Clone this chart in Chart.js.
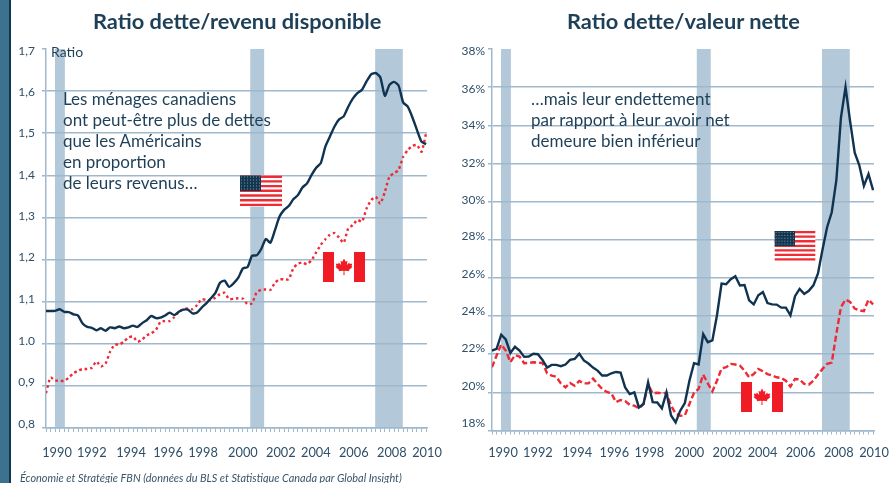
<!DOCTYPE html>
<html lang="fr">
<head>
<meta charset="utf-8">
<title>Ratios d'endettement</title>
<script src="https://cdn.jsdelivr.net/npm/chart.js@4/dist/chart.umd.js"></script>
<style>
body { margin: 0; background: #fff; }
#page { position: relative; width: 894px; height: 483px; overflow: hidden; font-family: Lato, sans-serif; color: #1d3f57; }
#page > * { position: absolute; }
canvas { top: 0; }
#strip { left: 0; top: 0; width: 9px; height: 483px; background: #3a7290; border-right: 2px solid #12364f; }
.title { top: 7px; font-size: 21.8px; font-weight: 700; line-height: 28px; white-space: nowrap; }
.note { font-size: 17px; line-height: 21px; white-space: nowrap; }
#ratio { left: 51px; top: 44px; font-size: 14px; line-height: 16px; }
#source { left: 20px; top: 471px; font-size: 10.9px; line-height: 13px; font-style: italic; color: #3a5568; white-space: nowrap; }
</style>
</head>
<body>
<div id="page">
  <canvas id="revenu" width="447" height="483" style="left:0"></canvas>
  <canvas id="valeur" width="447" height="483" style="left:447px"></canvas>
  <div id="strip"></div>
  <div class="title" style="left:93px">Ratio dette/revenu disponible</div>
  <div class="title" style="left:567px">Ratio dette/valeur nette</div>
  <div id="ratio">Ratio</div>
  <div class="note" style="left:63px;top:88px">Les ménages canadiens<br>ont peut-être plus de dettes<br>que les Américains<br>en proportion<br>de leurs revenus…</div>
  <div class="note" style="left:531px;top:88px">…mais leur endettement<br>par rapport à leur avoir net<br>demeure bien inférieur</div>
  <div id="source">Économie et Stratégie FBN (données du BLS et Statistique Canada par Global Insight)</div>

  <svg width="0" height="0" style="left:0;top:0">
    <defs>
      <pattern id="stars" width="3" height="3" patternUnits="userSpaceOnUse"><circle cx="1.5" cy="1.5" r="0.6" fill="#8fa3b5"/></pattern>
      <symbol id="usa" viewBox="0 0 42 31">
        <rect width="42" height="31" fill="#fff"/>
        <path d="M0 1.2H42M0 5.9H42M0 10.6H42M0 15.3H42M0 20H42M0 24.7H42M0 29.4H42" stroke="#ef2b36" stroke-width="2.4"/>
        <rect width="21" height="15.5" fill="#12364f"/>
        <rect width="21" height="15.5" fill="url(#stars)"/>
      </symbol>
      <symbol id="canada" viewBox="0 0 42 30">
        <rect width="42" height="30" fill="#fff"/>
        <rect width="11" height="30" fill="#ef1c25"/>
        <rect x="31" width="11" height="30" fill="#ef1c25"/>
        <path d="M21 6.5l1.7 3.2 1.8-1-.7 4.4 2.4-2.5.6 1.4 2.5-.5-.8 2.8 1 .6-3.6 3 .5 1.4-3.7-.5-1.3.1.2 4h-1.2l.2-4-1.3-.1-3.7.5.5-1.4-3.6-3 1-.6-.8-2.8 2.5.5.6-1.4 2.4 2.5-.7-4.4 1.8 1z" fill="#ef1c25"/>
      </symbol>
    </defs>
  </svg>
  <svg style="left:240px;top:175px" width="42" height="32"><use href="#usa" width="42" height="32"/></svg>
  <svg style="left:323px;top:252px" width="42" height="30"><use href="#canada" width="42" height="30"/></svg>
  <svg style="left:774px;top:231px" width="42" height="30"><use href="#usa" width="42" height="30"/></svg>
  <svg style="left:741px;top:382px" width="42" height="30"><use href="#canada" width="42" height="30"/></svg>
</div>

<script>
// one value per quarter, 1990 Q1 onwards
const quarters = Array.from({ length: 84 }, (_, i) => 1990 + i * 0.25);

const usRevenu = [1.078, 1.078, 1.078, 1.082, 1.076, 1.075, 1.07, 1.067, 1.048, 1.04, 1.038, 1.032, 1.037, 1.031, 1.039, 1.037, 1.041, 1.037, 1.039, 1.043, 1.04, 1.049, 1.056, 1.066, 1.061, 1.062, 1.067, 1.074, 1.068, 1.076, 1.081, 1.081, 1.072, 1.074, 1.086, 1.096, 1.108, 1.121, 1.145, 1.15, 1.135, 1.144, 1.157, 1.179, 1.182, 1.209, 1.21, 1.225, 1.249, 1.24, 1.27, 1.302, 1.318, 1.327, 1.343, 1.353, 1.371, 1.381, 1.401, 1.418, 1.429, 1.468, 1.492, 1.516, 1.533, 1.54, 1.563, 1.582, 1.595, 1.603, 1.623, 1.64, 1.643, 1.633, 1.589, 1.615, 1.622, 1.613, 1.573, 1.563, 1.538, 1.508, 1.48, 1.474];
const caRevenu = [0.883, 0.92, 0.913, 0.912, 0.912, 0.92, 0.93, 0.936, 0.94, 0.94, 0.943, 0.958, 0.946, 0.953, 0.981, 0.998, 0.998, 1.005, 1.015, 1.017, 1.005, 1.01, 1.02, 1.025, 1.033, 1.052, 1.054, 1.054, 1.063, 1.076, 1.082, 1.084, 1.082, 1.092, 1.106, 1.104, 1.104, 1.11, 1.118, 1.121, 1.106, 1.107, 1.108, 1.107, 1.094, 1.096, 1.122, 1.128, 1.129, 1.128, 1.145, 1.153, 1.153, 1.153, 1.179, 1.19, 1.193, 1.189, 1.199, 1.217, 1.235, 1.248, 1.259, 1.263, 1.252, 1.24, 1.274, 1.282, 1.294, 1.29, 1.321, 1.341, 1.349, 1.333, 1.361, 1.397, 1.405, 1.413, 1.444, 1.46, 1.47, 1.472, 1.456, 1.5];
const usValeur = [22.19, 22.28, 23.02, 22.77, 22.07, 22.39, 22.19, 21.86, 21.88, 22.02, 22.0, 21.7, 21.3, 21.44, 21.44, 21.37, 21.46, 21.7, 21.75, 22.03, 21.67, 21.51, 21.3, 21.14, 20.88, 20.88, 21.0, 21.07, 21.04, 20.26, 19.91, 20.0, 19.21, 19.39, 20.53, 19.49, 19.47, 19.16, 20.0, 18.79, 18.42, 19.04, 19.44, 20.61, 21.53, 21.46, 23.05, 22.63, 22.72, 24.04, 25.7, 25.67, 25.93, 26.09, 25.6, 25.63, 24.82, 24.61, 25.09, 25.26, 24.68, 24.61, 24.6, 24.44, 24.44, 24.04, 25.04, 25.42, 25.16, 25.32, 25.61, 26.23, 27.5, 28.67, 29.44, 31.12, 34.4, 36.0, 34.2, 32.56, 31.9, 30.82, 31.44, 30.6];
const caValeur = [21.32, 21.93, 22.51, 22.19, 21.58, 21.95, 21.88, 21.53, 21.54, 21.58, 21.56, 21.54, 21.0, 20.88, 20.82, 20.47, 20.26, 20.49, 20.35, 20.6, 20.47, 20.47, 20.72, 20.44, 20.18, 20.02, 19.95, 19.49, 19.6, 19.54, 19.35, 19.3, 19.16, 19.39, 20.4, 19.95, 19.98, 19.95, 19.98, 19.3, 18.89, 18.77, 18.79, 19.39, 19.98, 20.18, 20.93, 20.47, 20.05, 20.61, 21.25, 21.32, 21.49, 21.46, 21.4, 21.14, 20.79, 20.96, 21.23, 21.11, 20.96, 20.88, 20.79, 20.75, 20.61, 20.3, 20.7, 20.68, 20.44, 20.4, 20.61, 20.93, 21.23, 21.49, 21.56, 23.07, 24.47, 24.86, 24.74, 24.39, 24.3, 24.26, 24.86, 24.61];

const recessions = [[1990.49, 1991.03], [2001.15, 2001.91], [2007.97, 2009.48]];

const yearLabels = ['1990', '1992', '1994', '1996', '1998', '2000', '2002', '2004', '2006', '2008', '2010'];
// the year labels sit right of their ticks and not evenly, as in the source
const yearLabelAt = [1990.6, 1992.5, 1994.64, 1996.66, 1998.57, 2000.75, 2002.82, 2004.73, 2006.8, 2008.88, 2010.8];

const revenuTicks = [1.7, 1.6, 1.5, 1.4, 1.3, 1.2, 1.1, 1.0, 0.9, 0.8];
const revenuLabels = ['1,7', '1,6', '1,5', '1,4', '1,3', '1,2', '1,1', '1.0', '0,9', '0,8'];
const revenuLabelAt = [1.694, 1.597, 1.5, 1.401, 1.302, 1.206, 1.106, 1.007, 0.909, 0.81];

const valeurTicks = [38, 36, 34, 32, 30, 28, 26, 24, 22, 20, 18];
const valeurLabels = ['38%', '36%', '34%', '32%', '30%', '28%', '26%', '24%', '22%', '20%', '18%'];
const valeurLabelAt = [37.87, 35.92, 33.99, 32.04, 30.1, 28.17, 26.18, 24.24, 22.3, 20.31, 18.37];

const navy = '#0f3350';
const red = '#ee2a35';
const axisBlue = '#9fb8cc';
const bandBlue = '#b3c9d9';
const labelBlue = '#2d4f68';

const bands = {
    id: 'bands',
    beforeDraw(chart) {
        const { ctx, chartArea, scales } = chart;
        ctx.save();
        ctx.fillStyle = bandBlue;
        recessions.forEach(([from, to]) => {
            const x0 = scales.x.getPixelForValue(from);
            const x1 = scales.x.getPixelForValue(to);
            ctx.fillRect(x0, chartArea.top, x1 - x0, chartArea.bottom - chartArea.top);
        });
        ctx.restore();
    }
};

function series(values) {
    return values.map((v, i) => ({ x: quarters[i], y: v }));
}

// ticks that only carry a label are listed with the real ones, sorted and without doubles
function tickList(values) {
    return [...new Set(values)].sort((a, b) => a - b).map(v => ({ value: v }));
}

function makeChart(id, cfg) {
    return new Chart(document.getElementById(id), {
        type: 'line',
        data: {
            datasets: [
                { label: 'États-Unis', data: series(cfg.us), borderColor: navy, borderWidth: 2.4, tension: cfg.tension },
                { label: 'Canada', data: series(cfg.ca), borderColor: red, borderWidth: 2.4, borderDash: cfg.dash, tension: cfg.tension }
            ]
        },
        options: {
            responsive: false,
            animation: false,
            elements: { point: { radius: 0 } },
            layout: { padding: { top: 49, right: 20, left: 0, bottom: 0 } },
            plugins: { legend: { display: false }, tooltip: { enabled: false } },
            scales: {
                x: {
                    type: 'linear',
                    min: 1990,
                    max: 2010.8,
                    afterBuildTicks(axis) {
                        axis.ticks = tickList(quarters.concat(yearLabelAt));
                    },
                    afterFit(axis) {
                        axis.height = 483 - cfg.bottom;
                        axis.paddingLeft = 0;
                        axis.paddingRight = 0;
                    },
                    border: { color: axisBlue, width: 1.5 },
                    grid: {
                        drawOnChartArea: false,
                        tickLength: 4,
                        tickColor: c => quarters.includes(c.tick.value) ? axisBlue : 'transparent'
                    },
                    ticks: {
                        autoSkip: false,
                        maxRotation: 0,
                        padding: cfg.xPad,
                        color: labelBlue,
                        font: { family: 'Lato, sans-serif', size: 12.8 },
                        callback: v => {
                            const i = yearLabelAt.indexOf(v);
                            return i < 0 ? '' : yearLabels[i];
                        }
                    }
                },
                y: {
                    min: cfg.ticks[cfg.ticks.length - 1],
                    max: cfg.ticks[0],
                    afterBuildTicks(axis) {
                        axis.ticks = tickList(cfg.ticks.concat(cfg.labelAt));
                    },
                    afterFit(axis) {
                        axis.width = cfg.left;
                        axis.paddingTop = 0;
                        axis.paddingBottom = 0;
                    },
                    border: { color: axisBlue, width: 1.5 },
                    grid: {
                        lineWidth: 1.5,
                        tickLength: 4,
                        color: c => cfg.ticks.includes(c.tick.value) && c.tick.value !== cfg.ticks[0] ? axisBlue : 'transparent',
                        tickColor: c => cfg.ticks.includes(c.tick.value) ? axisBlue : 'transparent'
                    },
                    ticks: {
                        autoSkip: false,
                        padding: cfg.yPad,
                        color: labelBlue,
                        font: { family: 'Lato, sans-serif', size: 12 },
                        callback: v => {
                            const i = cfg.labelAt.indexOf(v);
                            return i < 0 ? '' : cfg.labels[i];
                        }
                    }
                }
            }
        },
        plugins: [bands]
    });
}

makeChart('revenu', {
    us: usRevenu, ca: caRevenu, ticks: revenuTicks, labels: revenuLabels, labelAt: revenuLabelAt,
    dash: [2.5, 3], tension: 0.2, left: 46, bottom: 428, xPad: 13, yPad: 7
});
makeChart('valeur', {
    us: usValeur, ca: caValeur, ticks: valeurTicks, labels: valeurLabels, labelAt: valeurLabelAt,
    dash: [6, 3], tension: 0, left: 45, bottom: 430.5, xPad: 11, yPad: 3
});
</script>
</body>
</html>
